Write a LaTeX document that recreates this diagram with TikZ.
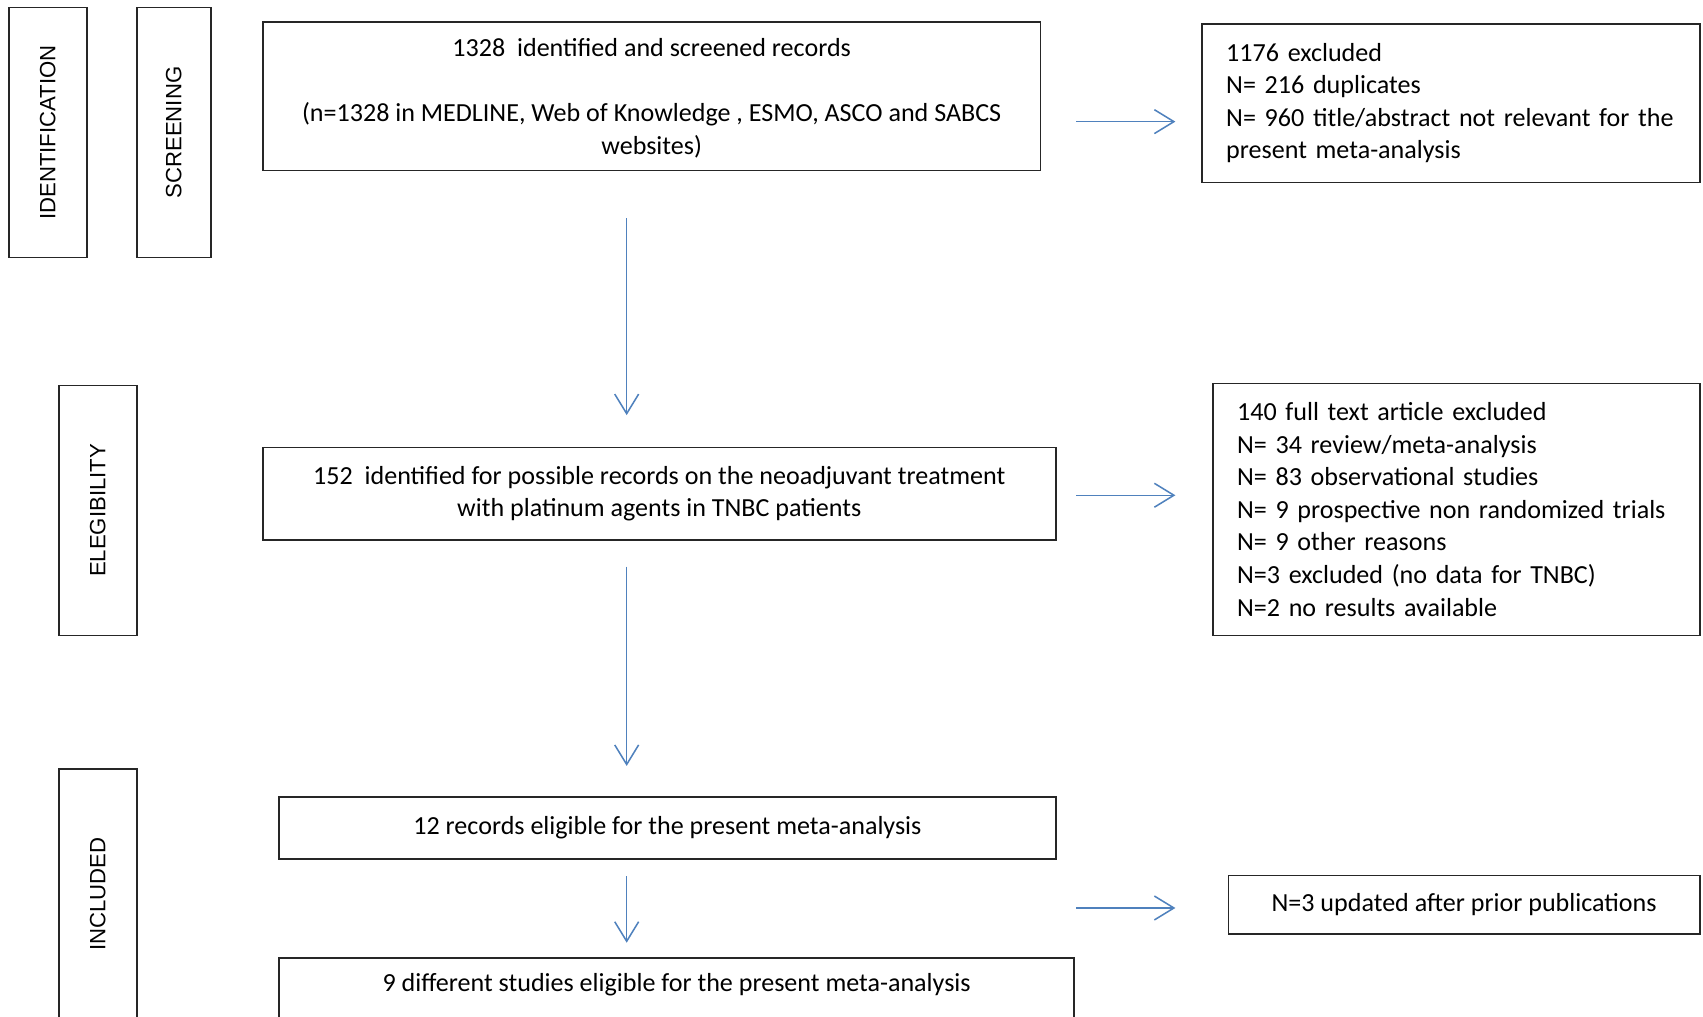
\documentclass[tikz,border=0pt]{standalone}
\usepackage{fontspec}
\setmainfont{Carlito}
\newfontfamily\stagefont{Liberation Sans}
\usetikzlibrary{arrows.meta,positioning}
\definecolor{flowblue}{HTML}{4F81BD}

\begin{document}
\begin{tikzpicture}[x=0.5pt,y=-0.5pt,
    box/.style={draw=black!85,line width=0.8pt,inner sep=0pt,align=center,font=\fontsize{12}{15}\selectfont},
    listbox/.style={box,align=left,inner xsep=11pt},
    stage/.style={draw=black!85,line width=0.8pt,minimum width=115pt,rotate=90,font=\stagefont\fontsize{10.2}{12}\selectfont},
    flow/.style={-{Straight Barb[length=9pt,width=11pt]},flowblue,line width=0.7pt}]
    \useasboundingbox (0,0) rectangle (1568,936);
    \clip (0,0) rectangle (1568,936);
    % Stages
    \node[stage,minimum height=36pt] (ident) at (44,122) {IDENTIFICATION};
    \node[stage,minimum height=34pt] (screen) at (160,122) {SCREENING};
    \node[stage,minimum height=36pt] (elegib) at (90,470) {ELEGIBILITY};
    \node[stage,minimum height=36pt] (incl) at (90,823) {INCLUDED};
    % Main column
    \node[box,minimum width=358pt,minimum height=68.5pt,text depth=0pt] (records) at (600,88.5) {1328 \ identified and screened records\\[15pt] (n=1328 in MEDLINE, Web of Knowledge , ESMO, ASCO and SABCS\\ websites)};
    \node[box,minimum width=365pt,minimum height=42.5pt] (possible) at (607,454.5) {152 \ identified for possible records on the neoadjuvant treatment\\ with platinum agents in TNBC patients};
    \node[box,minimum width=357.5pt,minimum height=28.5pt] (eligible) at (614.5,762.5) {12 records eligible for the present meta-analysis};
    \node[box,minimum width=366pt,minimum height=32pt,anchor=north,text depth=9pt] (studies) at (623,881) {9 different studies eligible for the present meta-analysis};
    % Exclusions
    \node[listbox,text width=207pt,minimum height=73pt] (excl1) at (1336,95) {1176 excluded\\ N= 216 duplicates\\ N= 960 title/abstract not relevant for the\\ present meta-analysis};
    \node[listbox,text width=202pt,minimum height=116pt] (excl2) at (1341,469) {140 full text article excluded\\ N= 34 review/meta-analysis\\ N= 83 observational studies\\ N= 9 prospective non randomized trials\\ N= 9 other reasons\\ N=3 excluded (no data for TNBC)\\ N=2 no results available};
    \node[box,minimum width=217pt,minimum height=27pt] (updated) at (1348,833) {N=3 updated after prior publications};
    % Arrows
    \coordinate (spine) at (577,0);
    \coordinate (row1) at (0,112);
    \coordinate (row2) at (0,456);
    \coordinate (row3) at (0,836);
    \draw[flow,shorten <=21.5pt,shorten >=14.5pt] (records.south -| spine) -- (possible.north -| spine);
    \draw[flow,shorten <=12pt,shorten >=14pt] (possible.south -| spine) -- (eligible.north -| spine);
    \draw[flow,shorten <=7.5pt,shorten >=6.5pt] (eligible.south -| spine) -- (studies.north -| spine);
    \draw[flow,shorten <=16pt,shorten >=12pt] (records.east |- row1) -- (excl1.west |- row1);
    \draw[flow,shorten <=9pt,shorten >=17pt] (possible.east |- row2) -- (excl2.west |- row2);
    \draw[flow,shorten <=9pt,shorten >=24pt] (eligible.east |- row3) -- (updated.west |- row3);
\end{tikzpicture}
\end{document}
